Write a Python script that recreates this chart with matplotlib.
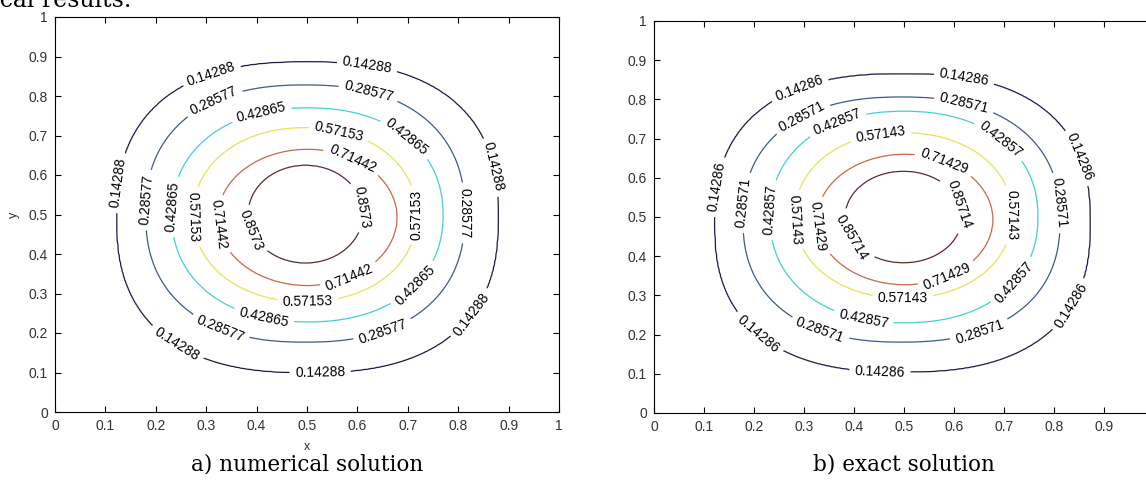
import numpy as np
import matplotlib
matplotlib.use("Agg")
import matplotlib.pyplot as plt

# contour levels
levels_a = [0.14288, 0.28577, 0.42865, 0.57153, 0.71442, 0.8573]
levels_b = [0.14286, 0.28571, 0.42857, 0.57143, 0.71429, 0.85714]

# extents of every contour (data units)
left_a = [0.123, 0.180, 0.232, 0.274, 0.323, 0.383]
right_a = [0.879, 0.813, 0.770, 0.718, 0.679, 0.611]
bottom_a = [0.100, 0.177, 0.228, 0.279, 0.320, 0.377]
top_a = [0.886, 0.828, 0.770, 0.720, 0.665, 0.625]

left_b = [0.122, 0.178, 0.232, 0.282, 0.326, 0.382]
right_b = [0.872, 0.812, 0.768, 0.716, 0.678, 0.616]
bottom_b = [0.105, 0.181, 0.230, 0.293, 0.327, 0.383]
top_b = [0.865, 0.806, 0.770, 0.715, 0.660, 0.617]

# squareness of each contour (outer ones are boxier)
shape = [2.5, 2.35, 2.2, 2.1, 2.0, 2.0]

line_colors = ["#1c1c48", "#3d5a8e", "#45cfd0", "#e4e35a", "#c8684a", "#5e2a2a"]

# where the labels sit
labels_a = [(0.307, 0.866), (0.619, 0.861), (0.129, 0.58), (0.863, 0.62),
            (0.823, 0.25), (0.234, 0.152), (0.526, 0.111),
            (0.314, 0.79), (0.619, 0.795), (0.182, 0.537), (0.807, 0.504),
            (0.327, 0.208), (0.651, 0.203),
            (0.407, 0.77), (0.704, 0.706), (0.232, 0.52), (0.718, 0.316), (0.413, 0.233),
            (0.565, 0.719), (0.268, 0.494), (0.728, 0.499), (0.502, 0.263),
            (0.591, 0.643), (0.317, 0.473), (0.585, 0.339),
            (0.381, 0.456), (0.609, 0.519)]
labels_b = [(0.292, 0.824), (0.618, 0.847), (0.128, 0.577), (0.852, 0.653),
            (0.826, 0.28), (0.206, 0.199), (0.452, 0.117),
            (0.30, 0.745), (0.618, 0.778), (0.186, 0.536), (0.808, 0.536),
            (0.332, 0.212), (0.652, 0.204),
            (0.362, 0.753), (0.692, 0.696), (0.232, 0.518), (0.726, 0.327), (0.418, 0.232),
            (0.452, 0.727), (0.266, 0.492), (0.712, 0.505), (0.498, 0.28),
            (0.582, 0.645), (0.318, 0.475), (0.588, 0.344),
            (0.386, 0.441), (0.606, 0.531)]

ticks = [i / 10 for i in range(11)]
tick_labels = ["0", "0.1", "0.2", "0.3", "0.4", "0.5", "0.6", "0.7", "0.8", "0.9", "1"]


def build_field(X, Y, lv, left, right, bottom, top):
    # field whose level sets go through the measured contours
    lr = []
    for k in range(len(lv)):
        cx = (left[k] + right[k]) / 2
        cy = (bottom[k] + top[k]) / 2
        a = (right[k] - left[k]) / 2
        b = (top[k] - bottom[k]) / 2
        n = shape[k]
        rho = (np.abs((X - cx) / a) ** n + np.abs((Y - cy) / b) ** n) ** (1 / n)
        lr.append(np.log(np.maximum(rho, 1e-9)))
    lr = np.array(lr)
    Z = np.full(X.shape, np.nan)
    out = lr[0] > 0
    Z[out] = lv[0] - 0.2 * lr[0][out]
    for k in range(len(lv) - 1):
        m = (lr[k] <= 0) & (lr[k + 1] > 0)
        t = -lr[k][m] / (lr[k + 1][m] - lr[k][m])
        Z[m] = lv[k] + t * (lv[k + 1] - lv[k])
    inn = lr[-1] <= 0
    Z[inn] = lv[-1] - 0.2 * lr[-1][inn]
    return np.ma.masked_invalid(Z)


g = np.linspace(0, 1, 401)
X, Y = np.meshgrid(g, g)

W, H = 1146, 487
fig = plt.figure(figsize=(W / 100, H / 100), dpi=100)
ax1 = fig.add_axes([55 / W, (H - 412) / H, 504 / W, 395 / H])
ax2 = fig.add_axes([654 / W, (H - 413) / H, 500 / W, 392 / H])

panels = [
    (ax1, levels_a, left_a, right_a, bottom_a, top_a, labels_a),
    (ax2, levels_b, left_b, right_b, bottom_b, top_b, labels_b),
]

for ax, lv, l, r, b, t, lab in panels:
    Z = build_field(X, Y, lv, l, r, b, t)
    cs = ax.contour(X, Y, Z, levels=lv, colors=line_colors, linewidths=0.9)
    ax.clabel(cs, fmt="%.5g", fontsize=10, colors="black", inline=True,
              inline_spacing=2, manual=lab)
    for txt in cs.labelTexts:
        txt.set_family("Liberation Sans")
    ax.set_xlim(0, 1)
    ax.set_ylim(0, 1)
    ax.set_xticks(ticks)
    ax.set_yticks(ticks)
    ax.set_yticklabels(tick_labels)
    ax.tick_params(direction="in", length=4, width=0.8, top=True, right=True,
                   labelsize=10, labelcolor="#333333", pad=5)
    for sp in ax.spines.values():
        sp.set_linewidth(0.8)

# the right panel runs past the page edge, its "1" is not visible
ax1.set_xticklabels(tick_labels)
ax2.set_xticklabels(tick_labels[:-1] + [""])
for ax in (ax1, ax2):
    for lbl in ax.get_xticklabels() + ax.get_yticklabels():
        lbl.set_family("Liberation Sans")

ax1.set_xlabel("x", fontsize=9, color="#333333", labelpad=6, family="Liberation Sans")
ax1.set_ylabel("y", fontsize=9, color="#333333", labelpad=6, family="Liberation Sans")

fig.text(307 / W, (H - 465) / H, "a) numerical solution", ha="center", va="center",
         fontsize=15.5, family="DejaVu Serif")
fig.text(904 / W, (H - 465) / H, "b) exact solution", ha="center", va="center",
         fontsize=15.5, family="DejaVu Serif")
fig.text(131 / W, (H - 7) / H, "numerical results.", ha="right", va="baseline",
         fontsize=17, family="DejaVu Serif")

fig.savefig("out.png", dpi=100)
